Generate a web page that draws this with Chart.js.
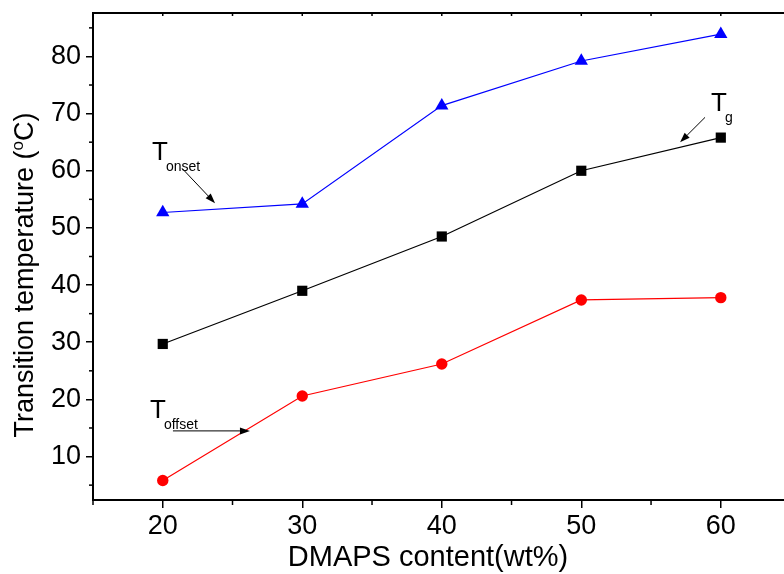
<!DOCTYPE html>
<html>
<head>
<meta charset="utf-8">
<script src="https://cdn.jsdelivr.net/npm/chart.js@4.4.1/dist/chart.umd.min.js"></script>
<style>
html,body{margin:0;padding:0;background:#fff;}
#c{display:block;}
</style>
</head>
<body>
<canvas id="c" width="784" height="574"></canvas>
<script>
// ---- data ----
const categories = [20, 30, 40, 50, 60];           // DMAPS content (wt%)
const tOnset  = [52.7, 54.2, 71.4, 79.2, 83.9];    // blue triangles
const tG      = [29.7, 39.0, 48.5, 60.0, 65.8];    // black squares
const tOffset = [5.8, 20.6, 26.2, 37.4, 37.8];     // red circles
const xTicks = [20, 30, 40, 50, 60];
const xMinorTicks = [15, 25, 35, 45, 55, 65];
const yTicks = [10, 20, 30, 40, 50, 60, 70, 80];
const yMinorTicks = [5, 15, 25, 35, 45, 55, 65, 75, 85];
const xTitle = 'DMAPS content(wt%)';
const yTitleParts = ['Transition temperature (', 'o', 'C)'];
// annotations: label main, subscript, text anchor (data), arrow start/end (data)
const annotations = [
  {main: 'T', sub: 'onset',  at: [19.23, 61.8], from: [21.38, 60.43], to: [23.75, 54.32]},
  {main: 'T', sub: 'g',      at: [59.30, 70.4], from: [58.87, 69.34], to: [57.08, 64.98]},
  {main: 'T', sub: 'offset', at: [19.09, 16.8], from: [20.73, 14.49], to: [26.25, 14.49]}
];

const toXY = arr => categories.map((c, i) => ({x: c, y: arr[i]}));
const FONT = '"Liberation Sans", Arial, Helvetica, sans-serif';

const decor = {
  id: 'decor',
  afterDraw(chart) {
    const ctx = chart.ctx, ca = chart.chartArea;
    const xs = chart.scales.x, ys = chart.scales.y;
    ctx.save();
    ctx.strokeStyle = '#000';
    // top border
    ctx.lineWidth = 2;
    ctx.beginPath(); ctx.moveTo(ca.left - 1, ca.top); ctx.lineTo(ca.right, ca.top); ctx.stroke();
    ctx.lineWidth = 1.5;
    // top ticks (inward)
    [...xTicks, ...xMinorTicks].forEach(v => {
      const px = xs.getPixelForValue(v);
      if (px < ca.left + 1 || px > ca.right) return;
      ctx.beginPath(); ctx.moveTo(px, ca.top); ctx.lineTo(px, ca.top + 3); ctx.stroke();
    });
    // minor ticks bottom (outward)
    xMinorTicks.forEach(v => {
      const px = xs.getPixelForValue(v);
      if (px < ca.left - 1 || px > ca.right) return;
      ctx.beginPath(); ctx.moveTo(px, ca.bottom); ctx.lineTo(px, ca.bottom + 5); ctx.stroke();
    });
    // minor ticks left (outward)
    yMinorTicks.forEach(v => {
      const py = ys.getPixelForValue(v);
      if (py < ca.top || py > ca.bottom) return;
      ctx.beginPath(); ctx.moveTo(ca.left, py); ctx.lineTo(ca.left - 4, py); ctx.stroke();
    });
    // x title
    ctx.fillStyle = '#000';
    ctx.font = '29px ' + FONT;
    ctx.textAlign = 'center'; ctx.textBaseline = 'alphabetic';
    ctx.fillText(xTitle, 428, 566);
    // y title (rotated, with superscript)
    ctx.save();
    ctx.translate(33, 275);
    ctx.rotate(-Math.PI / 2);
    const bigF = '27px ' + FONT, supF = '17px ' + FONT;
    ctx.font = bigF; const w0 = ctx.measureText(yTitleParts[0]).width;
    const w2 = ctx.measureText(yTitleParts[2]).width;
    ctx.font = supF; const w1 = ctx.measureText(yTitleParts[1]).width;
    let x0 = -(w0 + w1 + w2) / 2;
    ctx.textAlign = 'left';
    ctx.font = bigF; ctx.fillText(yTitleParts[0], x0, 0);
    ctx.font = supF; ctx.fillText(yTitleParts[1], x0 + w0, -10);
    ctx.font = bigF; ctx.fillText(yTitleParts[2], x0 + w0 + w1, 0);
    ctx.restore();
    // annotations
    annotations.forEach(a => {
      const tx = xs.getPixelForValue(a.at[0]), ty = ys.getPixelForValue(a.at[1]);
      ctx.font = '26px ' + FONT; ctx.textAlign = 'left';
      ctx.fillText(a.main, tx, ty);
      const tw = ctx.measureText(a.main).width;
      ctx.font = '14px ' + FONT;
      ctx.fillText(a.sub, tx + tw - 2, ty + 11);
      const x1 = xs.getPixelForValue(a.from[0]), y1 = ys.getPixelForValue(a.from[1]);
      const x2 = xs.getPixelForValue(a.to[0]), y2 = ys.getPixelForValue(a.to[1]);
      const ang = Math.atan2(y2 - y1, x2 - x1);
      const hl = 10, hw = 3.5;
      const bx = x2 - hl * Math.cos(ang), by = y2 - hl * Math.sin(ang);
      ctx.lineWidth = 1;
      ctx.beginPath(); ctx.moveTo(x1, y1); ctx.lineTo(bx, by); ctx.stroke();
      ctx.beginPath();
      ctx.moveTo(x2, y2);
      ctx.lineTo(bx + hw * Math.sin(ang), by - hw * Math.cos(ang));
      ctx.lineTo(bx - hw * Math.sin(ang), by + hw * Math.cos(ang));
      ctx.closePath(); ctx.fill();
    });
    ctx.restore();
  }
};

const zeroPad = s => { s.paddingTop = 0; s.paddingBottom = 0; s.paddingLeft = 0; s.paddingRight = 0; };

new Chart(document.getElementById('c'), {
  type: 'line',
  data: {
    datasets: [
      {label: 'Tonset', data: toXY(tOnset), borderColor: '#0000ff', backgroundColor: '#0000ff',
       borderWidth: 1.2, pointStyle: 'triangle', pointRadius: 7.7, pointBorderWidth: 0},
      {label: 'Tg', data: toXY(tG), borderColor: '#000000', backgroundColor: '#000000',
       borderWidth: 1.2, pointStyle: 'rect', pointRadius: 7.2, pointBorderWidth: 0},
      {label: 'Toffset', data: toXY(tOffset), borderColor: '#ff0000', backgroundColor: '#ff0000',
       borderWidth: 1.2, pointStyle: 'circle', pointRadius: 5.7, pointBorderWidth: 0}
    ]
  },
  options: {
    responsive: false,
    animation: false,
    layout: {autoPadding: false, padding: {top: 13, right: 0, left: 0, bottom: 0}},
    plugins: {legend: {display: false}, tooltip: {enabled: false}},
    elements: {line: {tension: 0}},
    scales: {
      x: {
        type: 'linear', min: 15, max: 64.53,
        afterBuildTicks: s => { s.ticks = xTicks.map(v => ({value: v})); },
        afterFit: s => { s.height = 74; zeroPad(s); },
        grid: {drawOnChartArea: false, tickLength: 8, color: '#000', lineWidth: 1.5},
        border: {color: '#000', width: 2},
        ticks: {color: '#000', font: {family: FONT, size: 27}, padding: 2, maxRotation: 0}
      },
      y: {
        type: 'linear', min: 2.4, max: 87.6,
        afterBuildTicks: s => { s.ticks = yTicks.map(v => ({value: v})); },
        afterFit: s => { s.width = 93; zeroPad(s); },
        grid: {drawOnChartArea: false, tickLength: 7, color: '#000', lineWidth: 1.5},
        border: {color: '#000', width: 2},
        ticks: {color: '#000', font: {family: FONT, size: 27}, padding: 5}
      }
    }
  },
  plugins: [decor]
});
</script>
</body>
</html>
